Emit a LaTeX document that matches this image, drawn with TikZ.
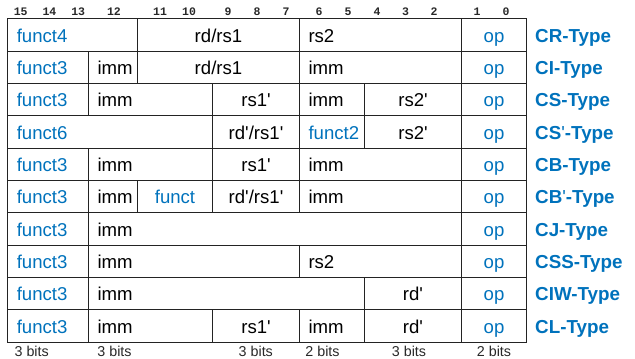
\documentclass[tikz,border=0pt]{standalone}
\usepackage{fontspec}
\setmainfont{Liberation Sans}[Ligatures=TeXOff]
\newfontfamily\bitfont{Liberation Mono}[Ligatures=TeXOff]
\definecolor{fieldblue}{RGB}{0,114,188}
\definecolor{rulegray}{RGB}{35,35,35}
\definecolor{numgray}{RGB}{40,40,40}

% one row of the format table is 32.35pt high, the first starts at 18.3pt
\newcommand\rowtop[1]{\pgfmathsetmacro\ctop{18.3+32.35*#1}}

% \fieldcell{name}{row}{left x}{right x}{style}{text}
\newcommand\fieldcell[6]{%
  \rowtop{#2}%
  \pgfmathsetmacro\cw{#4-#3}%
  \pgfmathsetmacro\ctw{#4-#3-18}%
  \node[cellbox, minimum width=\cw pt, anchor=north west, #5] (#1) at (#3,\ctop) {#6};%
}

% \typelabel{name}{row}{text}
\newcommand\typelabel[3]{%
  \rowtop{#2}%
  \node[typetxt] (#1) at (535,\ctop+23.8) {#3};%
}

\tikzset{
  cellbox/.style={draw=rulegray, line width=1pt, rectangle, minimum height=32.35pt,
    inner sep=0pt, text height=14.4pt, text depth=0pt,
    font=\fontsize{18.6}{20}\selectfont, text=black},
  lcell/.style={align=left, text width=\ctw pt, inner xsep=9pt},
  ccell/.style={align=center},
  bluetxt/.style={text=fieldblue},
  typetxt/.style={anchor=base west, inner sep=0pt, text=fieldblue,
    font=\fontsize{18.8}{20}\selectfont\bfseries},
  bitnum/.style={inner sep=0pt, text=numgray, font=\bitfont\fontsize{11.5}{12}\selectfont\bfseries},
  bitsize/.style={anchor=base, inner sep=0pt, text=numgray, font=\fontsize{14.3}{15}\selectfont}
}

\begin{document}
\begin{tikzpicture}[x=1pt, y=-1pt]
\useasboundingbox (0,0) rectangle (635,359);

% column boundaries (bit fields)
\def\xA{7.3}  \def\xB{88}  \def\xC{137} \def\xD{212}
\def\xE{299}  \def\xF{364} \def\xG{461} \def\xH{526}

% bit positions above the table
\foreach \b/\x in {15/20.7, 14/49.5, 13/78.2, 12/114, 11/160, 10/189, 9/228, 8/257,
                   7/286, 6/319, 5/348, 4/377, 3/405.5, 2/434, 1/477, 0/506}
  \node[bitnum] (bit\b) at (\x,11.5) {\b};

% CR-Type
\fieldcell{crf}{0}{\xA}{\xC}{lcell,bluetxt}{funct4}
\fieldcell{crrd}{0}{\xC}{\xE}{ccell}{rd/rs1}
\fieldcell{crrs}{0}{\xE}{\xG}{lcell}{rs2}
\fieldcell{crop}{0}{\xG}{\xH}{ccell,bluetxt}{op}
\typelabel{crt}{0}{CR-Type}

% CI-Type
\fieldcell{cif}{1}{\xA}{\xB}{lcell,bluetxt}{funct3}
\fieldcell{ciia}{1}{\xB}{\xC}{lcell}{imm}
\fieldcell{cird}{1}{\xC}{\xE}{ccell}{rd/rs1}
\fieldcell{ciib}{1}{\xE}{\xG}{lcell}{imm}
\fieldcell{ciop}{1}{\xG}{\xH}{ccell,bluetxt}{op}
\typelabel{cit}{1}{CI-Type}

% CS-Type
\fieldcell{csf}{2}{\xA}{\xB}{lcell,bluetxt}{funct3}
\fieldcell{csia}{2}{\xB}{\xD}{lcell}{imm}
\fieldcell{csrsa}{2}{\xD}{\xE}{ccell}{rs1'}
\fieldcell{csib}{2}{\xE}{\xF}{lcell}{imm}
\fieldcell{csrsb}{2}{\xF}{\xG}{ccell}{rs2'}
\fieldcell{csop}{2}{\xG}{\xH}{ccell,bluetxt}{op}
\typelabel{cst}{2}{CS-Type}

% CS'-Type
\fieldcell{cpf}{3}{\xA}{\xD}{lcell,bluetxt}{funct6}
\fieldcell{cprd}{3}{\xD}{\xE}{ccell}{rd'/rs1'}
\fieldcell{cpfb}{3}{\xE}{\xF}{lcell,bluetxt}{funct2}
\fieldcell{cprs}{3}{\xF}{\xG}{ccell}{rs2'}
\fieldcell{cpop}{3}{\xG}{\xH}{ccell,bluetxt}{op}
\typelabel{cpt}{3}{CS{\mdseries'}-Type}

% CB-Type
\fieldcell{cbf}{4}{\xA}{\xB}{lcell,bluetxt}{funct3}
\fieldcell{cbia}{4}{\xB}{\xD}{lcell}{imm}
\fieldcell{cbrs}{4}{\xD}{\xE}{ccell}{rs1'}
\fieldcell{cbib}{4}{\xE}{\xG}{lcell}{imm}
\fieldcell{cbop}{4}{\xG}{\xH}{ccell,bluetxt}{op}
\typelabel{cbt}{4}{CB-Type}

% CB'-Type
\fieldcell{cqf}{5}{\xA}{\xB}{lcell,bluetxt}{funct3}
\fieldcell{cqia}{5}{\xB}{\xC}{lcell}{imm}
\fieldcell{cqfb}{5}{\xC}{\xD}{ccell,bluetxt}{funct}
\fieldcell{cqrd}{5}{\xD}{\xE}{ccell}{rd'/rs1'}
\fieldcell{cqib}{5}{\xE}{\xG}{lcell}{imm}
\fieldcell{cqop}{5}{\xG}{\xH}{ccell,bluetxt}{op}
\typelabel{cqt}{5}{CB{\mdseries'}-Type}

% CJ-Type
\fieldcell{cjf}{6}{\xA}{\xB}{lcell,bluetxt}{funct3}
\fieldcell{cji}{6}{\xB}{\xG}{lcell}{imm}
\fieldcell{cjop}{6}{\xG}{\xH}{ccell,bluetxt}{op}
\typelabel{cjt}{6}{CJ-Type}

% CSS-Type
\fieldcell{cssf}{7}{\xA}{\xB}{lcell,bluetxt}{funct3}
\fieldcell{cssi}{7}{\xB}{\xE}{lcell}{imm}
\fieldcell{cssr}{7}{\xE}{\xG}{lcell}{rs2}
\fieldcell{cssop}{7}{\xG}{\xH}{ccell,bluetxt}{op}
\typelabel{csst}{7}{CSS-Type}

% CIW-Type
\fieldcell{ciwf}{8}{\xA}{\xB}{lcell,bluetxt}{funct3}
\fieldcell{ciwi}{8}{\xB}{\xF}{lcell}{imm}
\fieldcell{ciwr}{8}{\xF}{\xG}{ccell}{rd'}
\fieldcell{ciwop}{8}{\xG}{\xH}{ccell,bluetxt}{op}
\typelabel{ciwt}{8}{CIW-Type}

% CL-Type
\fieldcell{clf}{9}{\xA}{\xB}{lcell,bluetxt}{funct3}
\fieldcell{clia}{9}{\xB}{\xD}{lcell}{imm}
\fieldcell{clrs}{9}{\xD}{\xE}{ccell}{rs1'}
\fieldcell{clib}{9}{\xE}{\xF}{lcell}{imm}
\fieldcell{clrd}{9}{\xF}{\xG}{ccell}{rd'}
\fieldcell{clop}{9}{\xG}{\xH}{ccell,bluetxt}{op}
\typelabel{clt}{9}{CL-Type}

% field widths below the table
\foreach \n/\x/\t in {wa/31.7/3 bits, wb/114.5/3 bits, wc/255.8/3 bits,
                      wd/322.5/2 bits, we/409/3 bits, wf/494/2 bits}
  \node[bitsize] (\n) at (\x,356.5) {\t};
\end{tikzpicture}
\end{document}
